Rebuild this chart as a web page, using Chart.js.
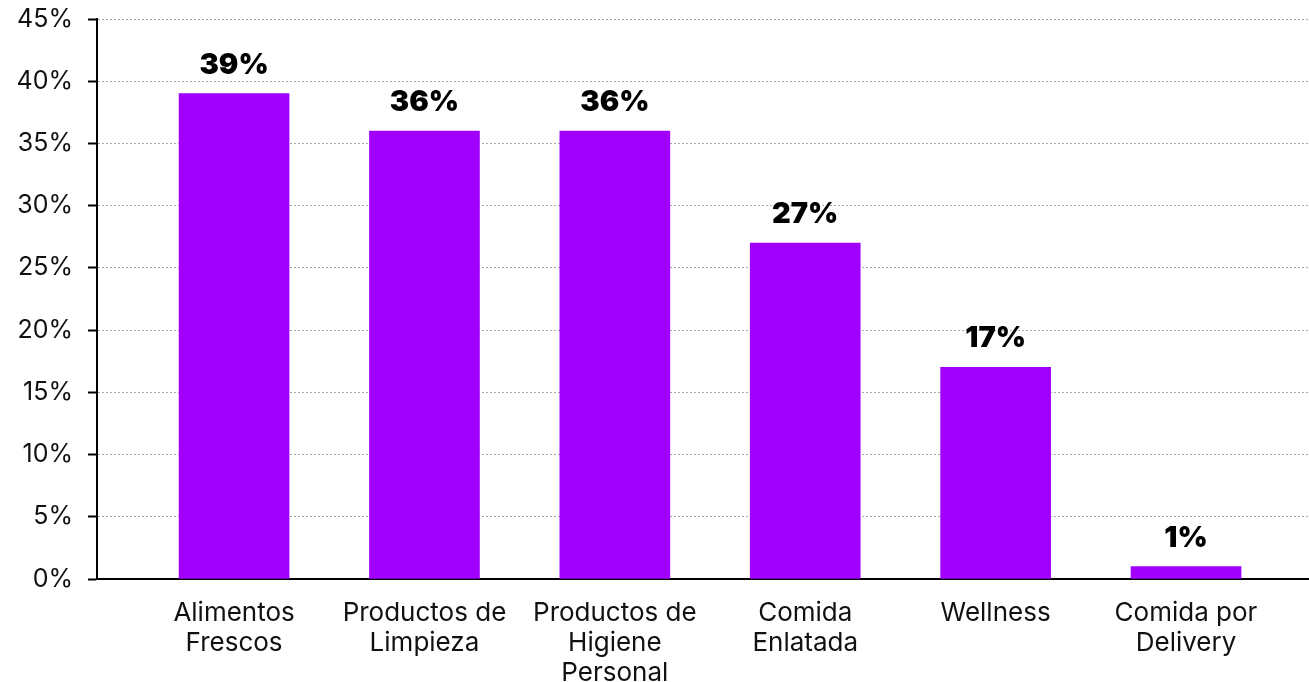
<!DOCTYPE html>
<html>
<head>
<meta charset="utf-8">
<script src="https://cdn.jsdelivr.net/npm/chart.js@4/dist/chart.umd.min.js"></script>
<style>
  html, body { margin: 0; padding: 0; background: #ffffff; }
  #wrap { width: 1309px; height: 682px; }
</style>
</head>
<body>
<div id="wrap"><canvas id="chart" width="1309" height="682"></canvas></div>
<script>
// Categorías (cada entrada es una etiqueta en varias líneas)
const categories = [
  ['Alimentos', 'Frescos'],
  ['Productos de', 'Limpieza'],
  ['Productos de', 'Higiene', 'Personal'],
  ['Comida', 'Enlatada'],
  ['Wellness'],
  ['Comida por', 'Delivery']
];
// Porcentaje de respuestas por categoría
const values = [39, 36, 36, 27, 17, 1];
// Marcas del eje vertical
const yTicks = [0, 5, 10, 15, 20, 25, 30, 35, 40, 45];

const FONT = 'Inter, "Liberation Sans", sans-serif';
const PURPLE = '#a100ff';

// Etiqueta de valor en negrita sobre cada barra
const valueLabels = {
  id: 'valueLabels',
  afterDatasetsDraw(chart) {
    const ctx = chart.ctx;
    const meta = chart.getDatasetMeta(0);
    ctx.save();
    ctx.font = '900 29px ' + FONT;
    ctx.fillStyle = '#000';
    ctx.textAlign = 'center';
    ctx.textBaseline = 'alphabetic';
    meta.data.forEach((bar, i) => {
      ctx.fillText(values[i] + '%', bar.x, bar.y - 20);
    });
    ctx.restore();
  }
};

new Chart(document.getElementById('chart'), {
  type: 'bar',
  data: {
    datasets: [{
      data: values.map((v, i) => ({ x: i, y: v })),
      backgroundColor: PURPLE,
      borderWidth: 0,
      barThickness: 110
    }]
  },
  options: {
    responsive: false,
    animation: false,
    layout: { padding: { top: 19, right: 0, bottom: 0, left: 0 } },
    plugins: { legend: { display: false }, tooltip: { enabled: false } },
    scales: {
      x: {
        type: 'linear',
        offset: false,
        min: -0.72,
        max: 5.646,
        afterBuildTicks: (scale) => {
          scale.ticks = categories.map((_, i) => ({ value: i }));
        },
        afterFit: (scale) => { scale.height = 103; },
        grid: { display: false },
        border: { display: true, color: '#000', width: 2 },
        ticks: {
          autoSkip: false,
          maxRotation: 0,
          padding: 11,
          color: '#111',
          font: { family: FONT, size: 26, lineHeight: 1.15 },
          callback: (v) => categories[v] || ''
        }
      },
      y: {
        min: 0,
        max: 45,
        afterBuildTicks: (scale) => {
          scale.ticks = yTicks.map(v => ({ value: v }));
        },
        afterFit: (scale) => {
          scale.width = 97;
          scale.paddingTop = 0;
          scale.paddingBottom = 0;
        },
        grid: {
          color: '#a8a8a8',
          lineWidth: 1,
          tickLength: 9,
          tickColor: '#000',
          tickWidth: 2
        },
        border: { display: true, color: '#000', width: 2, dash: [2, 2] },
        ticks: {
          padding: 15,
          color: '#111',
          font: { family: FONT, size: 25 },
          callback: (v) => v + '%'
        }
      }
    }
  },
  plugins: [valueLabels]
});
</script>
</body>
</html>
